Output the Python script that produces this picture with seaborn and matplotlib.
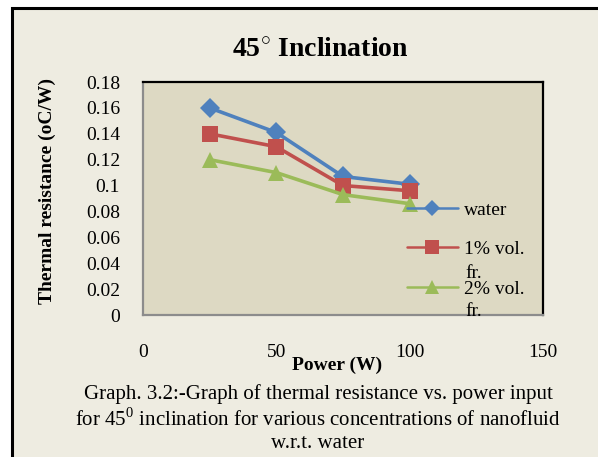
import numpy as np
import pandas as pd
import matplotlib
matplotlib.use("Agg")
import matplotlib.pyplot as plt
import seaborn as sns
from matplotlib.patches import Rectangle

# data
power = [25, 50, 75, 100]
water = [0.160, 0.141, 0.107, 0.101]
vol1 = [0.140, 0.130, 0.100, 0.096]
vol2 = [0.120, 0.110, 0.093, 0.086]
series_names = ["water", "1% vol. fr.", "2% vol. fr."]
legend_labels = ["water", "1% vol.", "2% vol."]
x_ticks = [0, 50, 100, 150]
y_ticks = [0, 0.02, 0.04, 0.06, 0.08, 0.1, 0.12, 0.14, 0.16, 0.18]
y_tick_labels = ["0", "0.02", "0.04", "0.06", "0.08", "0.1", "0.12", "0.14", "0.16", "0.18"]

df = pd.DataFrame({
    "Power": power * 3,
    "R": water + vol1 + vol2,
    "fluid": np.repeat(series_names, len(power)),
})

sns.set_style("white")
plt.rcParams["font.family"] = ["Liberation Serif", "DejaVu Serif"]
plt.rcParams["mathtext.fontset"] = "custom"
plt.rcParams["mathtext.rm"] = "Liberation Serif"
plt.rcParams["mathtext.bf"] = "Liberation Serif:bold"
plt.rcParams["text.color"] = "black"
plt.rcParams["xtick.color"] = "black"
plt.rcParams["ytick.color"] = "black"

bg = "#EEECE1"
plot_bg = "#DDD9C3"
colors = ["#4F81BD", "#C0504D", "#9BBB59"]

fig = plt.figure(figsize=(5.98, 4.57), dpi=100)
fig.patch.set_facecolor("white")
# chart frame (cropped on the right and bottom)
fig.patches.append(Rectangle((12 / 598, -0.05), 1.0, 1 - 8 / 457 + 0.05,
                             transform=fig.transFigure, facecolor=bg,
                             edgecolor="black", linewidth=2.2, zorder=-10))

ax = fig.add_axes([143 / 598, 1 - 315 / 457, 400 / 598, 233 / 457])
ax.set_facecolor(plot_bg)

sns.lineplot(data=df, x="Power", y="R", hue="fluid", style="fluid",
             markers=["D", "s", "^"], dashes=False, palette=colors,
             linewidth=2.6, markersize=11, markeredgewidth=0,
             legend=False, ax=ax)
ax.lines[0].set_markersize(10)
ax.lines[1].set_markersize(12)
ax.lines[2].set_markersize(12)

ax.set_xlim(0, 150)
ax.set_ylim(0, 0.18)
ax.set_xticks(x_ticks)
ax.set_yticks(y_ticks)
ax.set_yticklabels(y_tick_labels)
ax.tick_params(axis="y", length=0, pad=16.5, labelsize=14)
ax.tick_params(axis="x", length=0, pad=21, labelsize=14)

for side in ["top", "right"]:
    ax.spines[side].set_color("black")
    ax.spines[side].set_linewidth(1.6)
for side in ["left", "bottom"]:
    ax.spines[side].set_color("#8C8C8C")
    ax.spines[side].set_linewidth(1.6)

ax.set_xlabel("")
ax.set_ylabel("")
fig.text(47 / 598, 1 - 191 / 457, "Thermal resistance (oC/W)", rotation=90,
         ha="center", va="center", fontsize=14, fontweight="bold")
fig.text(337 / 598, 1 - 370 / 457, "Power (W)", ha="center", va="baseline",
         fontsize=14, fontweight="bold")
fig.text(320 / 598, 1 - 57 / 457, r"45$^{\circ}$ Inclination", ha="center",
         va="baseline", fontsize=20, fontweight="bold")

leg = ax.legend(ax.lines[:3], legend_labels, loc="upper left",
                bbox_to_anchor=(407 / 598, 1 - 201 / 457),
                bbox_transform=fig.transFigure, frameon=False, fontsize=14,
                handlelength=2.6, handletextpad=0.35, borderpad=0,
                borderaxespad=0, labelspacing=1.13, markerscale=0.8)
for ln in leg.get_lines():
    ln.set_linewidth(1.8)

# second line of the wrapped legend labels
fig.text(465 / 598, 1 - 273 / 457, "fr.", fontsize=14, va="center")
fig.text(465 / 598, 1 - 312 / 457, "fr.", fontsize=14, va="center")

caption = ["Graph. 3.2:-Graph of thermal resistance vs. power input",
           r"for 45$^{0}$ inclination for various concentrations of nanofluid",
           "w.r.t. water"]
for i, line in enumerate(caption):
    fig.text(318 / 598, 1 - (394 + 25 * i) / 457, line, ha="center",
             va="center", fontsize=15)

fig.savefig("out.png", dpi=100, facecolor=fig.get_facecolor())
